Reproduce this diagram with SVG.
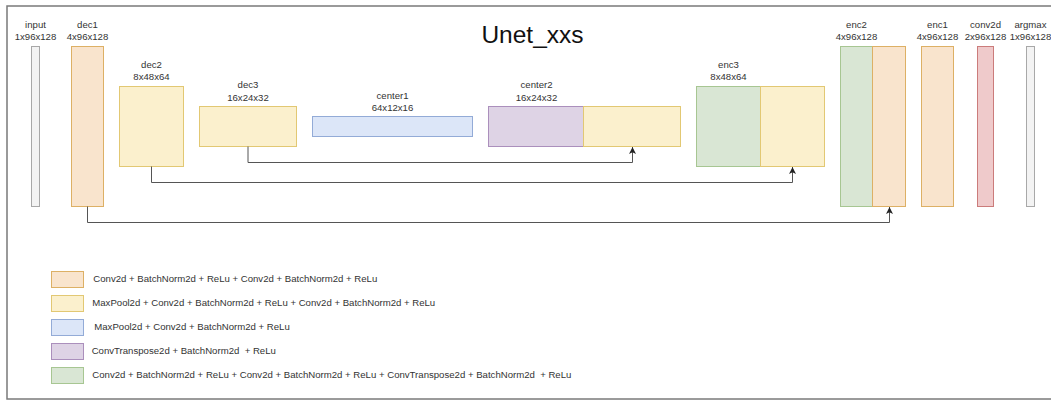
<svg xmlns="http://www.w3.org/2000/svg" width="1051" height="401" viewBox="0 0 1051 401">
  <defs>
    <marker id="arrow" viewBox="0 0 10 10" refX="10" refY="5" markerWidth="7" markerHeight="7" markerUnits="userSpaceOnUse" orient="auto">
      <path d="M0,0 L10,5 L0,10 L2.5,5 Z" fill="#222"/>
    </marker>
    <style>
      text { font-family: "Liberation Sans", Arial, sans-serif; fill: #333; }
      .lbl { font-size: 9.6px; text-anchor: middle; }
      .leg { font-size: 9.6px; }
      .title { font-size: 24.5px; text-anchor: middle; fill: #111; }
      rect { stroke-width: 1; }
      .orange { fill: #f9e4cd; stroke: #ddb065; }
      .yellow { fill: #fbf0cd; stroke: #e2c873; }
      .blue { fill: #dce6f8; stroke: #93abd7; }
      .purple { fill: #ded3e5; stroke: #ab8fbc; }
      .green { fill: #d9e6d4; stroke: #a7c692; }
      .red { fill: #efcacb; stroke: #cb7c7b; }
      .gray { fill: #f3f3f3; stroke: #a8a8a8; }
      .frame { fill: none; stroke: #7a7a7a; stroke-width: 1.5; }
      .link { fill: none; stroke: #555; stroke-width: 1; marker-end: url(#arrow); }
    </style>
  </defs>

  <rect class="frame" x="7" y="6" width="1050" height="393"/>

  <text class="title" x="532.5" y="43">Unet_xxs</text>

  <g id="input">
    <rect class="gray" x="31.5" y="46.5" width="8" height="160"/>
    <text class="lbl" x="35.5" y="27.7">input</text>
    <text class="lbl" x="35.5" y="40">1x96x128</text>
  </g>
  <g id="dec1">
    <rect class="orange" x="71.5" y="46.5" width="32" height="160"/>
    <text class="lbl" x="87.5" y="27.7">dec1</text>
    <text class="lbl" x="87.5" y="40">4x96x128</text>
  </g>
  <g id="dec2">
    <rect class="yellow" x="119.5" y="86.5" width="64" height="80"/>
    <text class="lbl" x="151.5" y="67.5">dec2</text>
    <text class="lbl" x="151.5" y="80">8x48x64</text>
  </g>
  <g id="dec3">
    <rect class="yellow" x="199.5" y="106.5" width="97" height="40"/>
    <text class="lbl" x="248" y="87.7">dec3</text>
    <text class="lbl" x="248" y="100.5">16x24x32</text>
  </g>
  <g id="center1">
    <rect class="blue" x="312.5" y="116.5" width="160" height="20"/>
    <text class="lbl" x="392.5" y="98.7">center1</text>
    <text class="lbl" x="392.5" y="111">64x12x16</text>
  </g>
  <g id="center2">
    <rect class="purple" x="488.5" y="106.5" width="95" height="40"/>
    <rect class="yellow" x="583.5" y="106.5" width="97" height="40"/>
    <text class="lbl" x="536.5" y="88.4">center2</text>
    <text class="lbl" x="536.5" y="100.5">16x24x32</text>
  </g>
  <g id="enc3">
    <rect class="green" x="696.5" y="86.5" width="64" height="80"/>
    <rect class="yellow" x="760.5" y="86.5" width="64" height="80"/>
    <text class="lbl" x="728.5" y="67.5">enc3</text>
    <text class="lbl" x="728.5" y="80">8x48x64</text>
  </g>
  <g id="enc2">
    <rect class="green" x="840.5" y="46.5" width="32" height="160"/>
    <rect class="orange" x="872.5" y="46.5" width="33" height="160"/>
    <text class="lbl" x="856.5" y="27.7">enc2</text>
    <text class="lbl" x="856.5" y="40">4x96x128</text>
  </g>
  <g id="enc1">
    <rect class="orange" x="921.5" y="46.5" width="32" height="160"/>
    <text class="lbl" x="937.5" y="27.7">enc1</text>
    <text class="lbl" x="937.5" y="40">4x96x128</text>
  </g>
  <g id="conv2d">
    <rect class="red" x="977.5" y="46.5" width="16" height="160"/>
    <text class="lbl" x="985.5" y="27.7">conv2d</text>
    <text class="lbl" x="985.5" y="40">2x96x128</text>
  </g>
  <g id="argmax">
    <rect class="gray" x="1026.5" y="46.5" width="8" height="160"/>
    <text class="lbl" x="1030.5" y="27.7">argmax</text>
    <text class="lbl" x="1030.5" y="40">1x96x128</text>
  </g>

  <!-- skip connections -->
  <g id="connectors">
    <path class="link" d="M248,146.5 V162.5 H632.5 V147"/>
    <path class="link" d="M151.5,166.5 V182.5 H792.5 V167"/>
    <path class="link" d="M87.5,206.5 V222.5 H889.5 V207"/>
  </g>

  <!-- legend -->
  <g id="legend">
    <rect class="orange" x="51.5" y="271.5" width="32" height="16"/>
    <text class="leg" x="93.3" y="282.4">Conv2d + BatchNorm2d + ReLu + Conv2d + BatchNorm2d + ReLu</text>
    <rect class="yellow" x="51.5" y="295.5" width="32" height="16"/>
    <text class="leg" x="92.3" y="306.4">MaxPool2d + Conv2d + BatchNorm2d + ReLu + Conv2d + BatchNorm2d + ReLu</text>
    <rect class="blue" x="51.5" y="319.5" width="32" height="16"/>
    <text class="leg" x="94.3" y="330.4">MaxPool2d + Conv2d + BatchNorm2d + ReLu</text>
    <rect class="purple" x="51.5" y="343.5" width="32" height="16"/>
    <text class="leg" x="91.7" y="354.4" xml:space="preserve">ConvTranspose2d + BatchNorm2d  + ReLu</text>
    <rect class="green" x="51.5" y="367.5" width="32" height="16"/>
    <text class="leg" x="92.3" y="378.4" xml:space="preserve">Conv2d + BatchNorm2d + ReLu + Conv2d + BatchNorm2d + ReLu + ConvTranspose2d + BatchNorm2d  + ReLu</text>
  </g>
</svg>
